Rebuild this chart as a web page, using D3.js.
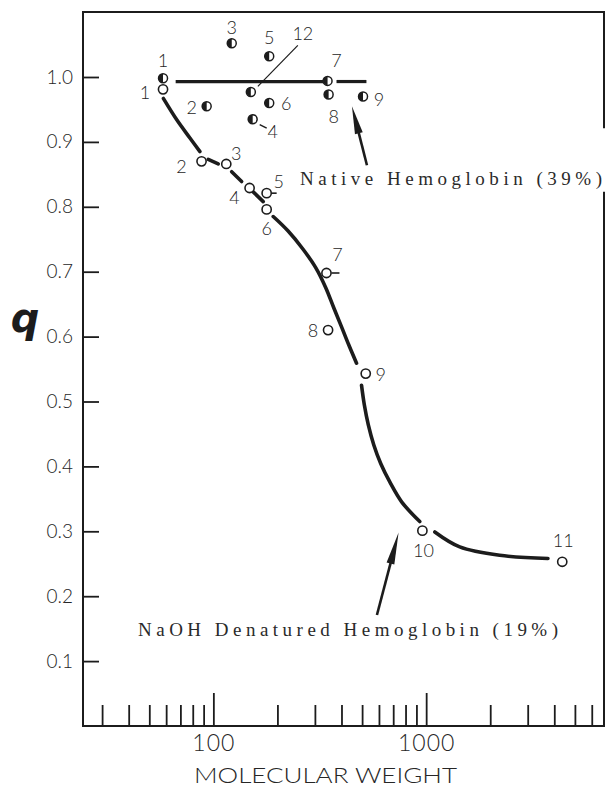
<!DOCTYPE html>
<html>
<head>
<meta charset="utf-8">
<script src="https://cdn.jsdelivr.net/npm/d3@7"></script>
<style>
  html, body { margin: 0; padding: 0; background: #fff; }
  svg { display: block; }
</style>
</head>
<body>
<svg id="chart" width="610" height="787"></svg>
<script>
// ---------------- data ----------------
const mwMajorTicks = [100, 1000];
const mwMinorTicks = [30, 40, 50, 60, 70, 80, 90, 200, 300, 400, 500, 600, 700, 800, 900, 2000, 3000, 4000, 5000, 6000];
const qTicks = [0.1, 0.2, 0.3, 0.4, 0.5, 0.6, 0.7, 0.8, 0.9, 1.0];

// NaOH denatured hemoglobin (open circles)
const denaturedLabels = ["1", "2", "3", "4", "5", "6", "7", "8", "9", "10", "11"];
const denaturedMW     = [58, 88, 115, 148, 178, 178, 340, 346, 520, 960, 4360];
const denaturedQ      = [0.981, 0.870, 0.866, 0.829, 0.821, 0.796, 0.698, 0.610, 0.543, 0.301, 0.253];

// Native hemoglobin (half-filled circles)
const nativeLabels = ["1", "2", "3", "4", "5", "6", "7", "8", "9", "12"];
const nativeMW     = [58, 93, 122, 153, 183, 183, 344, 348, 505, 150];
const nativeQ      = [0.998, 0.955, 1.052, 0.935, 1.032, 0.960, 0.994, 0.973, 0.970, 0.977];

// native mean line (two pieces, broken at point 7)
const nativeLineMW = [[66.5, 328], [379, 524]];
const nativeLineQ  = [0.993, 0.993];

// hand-drawn curve through denatured points, read as segments
const curveSegMW = [
  [58.2, 67.3, 77.6, 86.5],
  [94.6, 105.4],
  [121.9, 135.8],
  [153.9, 171.5],
  [191.1, 224, 263.4, 303.1, 337.8, 368.3, 400.3, 433.1, 470.8],
  [496.9, 512.1, 534.8, 567.5, 612.2, 674.7, 768.3, 933],
  [1098, 1438, 2216, 3735]
];
const curveSegQ = [
  [0.967, 0.934, 0.906, 0.885],
  [0.873, 0.866],
  [0.854, 0.839],
  [0.823, 0.808],
  [0.785, 0.763, 0.735, 0.706, 0.675, 0.644, 0.615, 0.587, 0.559],
  [0.525, 0.495, 0.464, 0.433, 0.404, 0.376, 0.345, 0.315],
  [0.299, 0.276, 0.263, 0.258]
];

const nativeText = "Native Hemoglobin (39%)";
const denaturedText = "NaOH Denatured Hemoglobin (19%)";
const xTitle = "MOLECULAR WEIGHT";
const yTitle = "q";

// ---------------- drawing ----------------
const svg = d3.select("#chart");
const ink = "#1c1c1c";
const txt = "#262626";
const sans = "Lato, 'DejaVu Sans', sans-serif";
const serif = "'Liberation Serif', 'DejaVu Serif', serif";

const x = d3.scaleLog().domain([24.4, 6850]).range([83, 604]);
const y = d3.scaleLinear().domain([0, 1.1]).range([726, 12.1]);

const X0 = x.range()[0], X1 = x.range()[1];
const Y0 = y(0), Y1 = y(1.1);

// frame (right side broken by the native label)
const frame = svg.append("g").attr("stroke", ink).attr("stroke-width", 2).attr("fill", "none");
frame.append("line").attr("x1", X0).attr("y1", Y1).attr("x2", X0).attr("y2", Y0);
frame.append("line").attr("x1", X0 - 1).attr("y1", Y0).attr("x2", X1 + 1).attr("y2", Y0);
frame.append("line").attr("x1", X0 - 1).attr("y1", Y1).attr("x2", X1 + 1).attr("y2", Y1);
frame.append("line").attr("x1", X1).attr("y1", Y1).attr("x2", X1).attr("y2", y(0.921));
frame.append("line").attr("x1", X1).attr("y1", y(0.823)).attr("x2", X1).attr("y2", Y0);

// y axis (ticks point inward)
const yAxis = svg.append("g").attr("transform", `translate(${X0},0)`)
  .call(d3.axisLeft(y).tickValues(qTicks).tickSize(-16).tickPadding(10).tickFormat(d3.format(".1f")));
yAxis.select(".domain").remove();
yAxis.selectAll("line").attr("stroke", ink).attr("stroke-width", 1.8);
yAxis.selectAll("text").attr("font-family", sans).attr("font-weight", 300)
  .attr("font-size", 19).attr("fill", txt);

// x axis minor ticks
const xMinor = svg.append("g").attr("transform", `translate(0,${Y0})`)
  .call(d3.axisBottom(x).tickValues(mwMinorTicks).tickSize(-21).tickFormat(""));
xMinor.select(".domain").remove();
xMinor.selectAll("line").attr("stroke", ink).attr("stroke-width", 1.8);

// x axis major ticks with labels
const xMajor = svg.append("g").attr("transform", `translate(0,${Y0})`)
  .call(d3.axisBottom(x).tickValues(mwMajorTicks).tickSize(-33).tickPadding(9).tickFormat(d3.format("d")));
xMajor.select(".domain").remove();
xMajor.selectAll("line").attr("stroke", ink).attr("stroke-width", 1.8);
xMajor.selectAll("text").attr("font-family", sans).attr("font-weight", 300)
  .attr("font-size", 23).attr("fill", txt).attr("letter-spacing", 1);

// axis titles
svg.append("text").attr("x", (X0 + X1) / 2 - 18).attr("y", 783)
  .attr("text-anchor", "middle").attr("font-family", sans).attr("font-weight", 300)
  .attr("font-size", 21).attr("fill", txt)
  .attr("textLength", 263).attr("lengthAdjust", "spacingAndGlyphs").text(xTitle);
svg.append("text").attr("x", 25).attr("y", 332)
  .attr("text-anchor", "middle").attr("font-family", "'DejaVu Sans', sans-serif")
  .attr("font-style", "italic").attr("font-weight", "bold")
  .attr("font-size", 40).attr("fill", ink).text(yTitle);

// curve segments
const line = d3.line().x(d => x(d[0])).y(d => y(d[1])).curve(d3.curveCatmullRom.alpha(0.5));
const curveG = svg.append("g").attr("fill", "none").attr("stroke", ink)
  .attr("stroke-width", 3.6).attr("stroke-linecap", "round");
curveSegMW.forEach((seg, i) => {
  curveG.append("path").attr("d", line(seg.map((m, j) => [m, curveSegQ[i][j]])));
});

// native mean line
const nl = svg.append("g").attr("stroke", ink).attr("stroke-width", 3.2).attr("stroke-linecap", "butt");
nativeLineMW.forEach(p => {
  nl.append("line").attr("x1", x(p[0])).attr("x2", x(p[1]))
    .attr("y1", y(nativeLineQ[0])).attr("y2", y(nativeLineQ[1]));
});

// label placement (offsets in px from the point)
const denOff = {
  "1": [-18, 3], "2": [-20, 5], "3": [10, -11], "4": [-15, 9], "5": [12, -12],
  "6": [0, 19], "7": [11, -19], "8": [-15, 0], "9": [15, 0], "10": [1, 19], "11": [1, -22]
};
const denDash = { "5": [5, 10], "7": [5, 13] };
const natOff = {
  "1": [0, -18], "2": [-15, 1], "3": [0, -16], "4": [20, 12], "5": [0, -19],
  "6": [17, 0], "7": [9, -21], "8": [5, 21], "9": [16, 3], "12": [52, -59]
};

// denatured points
const den = denaturedLabels.map((l, i) => ({ l, mw: denaturedMW[i], q: denaturedQ[i] }));
const denG = svg.append("g");
den.forEach(d => {
  const cx = x(d.mw), cy = y(d.q);
  if (denDash[d.l]) {
    denG.append("line").attr("x1", cx + denDash[d.l][0]).attr("x2", cx + denDash[d.l][1])
      .attr("y1", cy).attr("y2", cy).attr("stroke", ink).attr("stroke-width", 1.6);
  }
  denG.append("circle").attr("cx", cx).attr("cy", cy).attr("r", 4.6)
    .attr("fill", "#fff").attr("stroke", ink).attr("stroke-width", 1.6);
  const o = denOff[d.l];
  denG.append("text").attr("x", cx + o[0]).attr("y", cy + o[1])
    .attr("text-anchor", "middle").attr("dominant-baseline", "central")
    .attr("font-family", sans).attr("font-weight", 300).attr("font-size", 18)
    .attr("fill", txt).text(d.l);
});

// native points (half-filled)
const nat = nativeLabels.map((l, i) => ({ l, mw: nativeMW[i], q: nativeQ[i] }));
const natG = svg.append("g");
const r = 4.5;
nat.forEach(d => {
  const cx = x(d.mw), cy = y(d.q);
  natG.append("circle").attr("cx", cx).attr("cy", cy).attr("r", r)
    .attr("fill", "#fff").attr("stroke", ink).attr("stroke-width", 1.5);
  natG.append("path")
    .attr("d", `M${cx},${cy - r} A${r},${r} 0 0,0 ${cx},${cy + r} Z`)
    .attr("fill", ink);
  const o = natOff[d.l];
  natG.append("text").attr("x", cx + o[0]).attr("y", cy + o[1])
    .attr("text-anchor", "middle").attr("dominant-baseline", "central")
    .attr("font-family", sans).attr("font-weight", 300).attr("font-size", 18)
    .attr("fill", txt).text(d.l);
  if (d.l === "4") {
    natG.append("line").attr("x1", cx + 7).attr("y1", cy + 5.5).attr("x2", cx + 14).attr("y2", cy + 9)
      .attr("stroke", ink).attr("stroke-width", 1.4);
  }
  if (d.l === "12") {
    natG.append("line").attr("x1", cx + 7).attr("y1", cy - 5.5).attr("x2", cx + 47).attr("y2", cy - 46.5)
      .attr("stroke", ink).attr("stroke-width", 1.2);
  }
});

// arrows
function arrow(tailMW, tailQ, headMW, headQ, len, half) {
  const x1 = x(tailMW), y1 = y(tailQ), x2 = x(headMW), y2 = y(headQ);
  const dx = x2 - x1, dy = y2 - y1, L = Math.hypot(dx, dy);
  const ux = dx / L, uy = dy / L, px = -uy, py = ux;
  const bx = x2 - ux * len, by = y2 - uy * len;
  svg.append("line").attr("x1", x1).attr("y1", y1).attr("x2", bx + ux * 2).attr("y2", by + uy * 2)
    .attr("stroke", ink).attr("stroke-width", 2.6);
  svg.append("path")
    .attr("d", `M${x2},${y2} L${bx + px * half},${by + py * half} L${bx - px * half},${by - py * half} Z`)
    .attr("fill", ink);
}
arrow(527, 0.864, 448, 0.955, 28, 4);
arrow(587, 0.171, 742, 0.298, 32, 4);

// annotation texts (typewriter-like serif, widely spaced)
svg.append("text").attr("x", 300).attr("y", 184.5)
  .attr("font-family", serif).attr("font-size", 19).attr("fill", "#2a2a2a")
  .attr("textLength", 302).attr("lengthAdjust", "spacing").text(nativeText);
svg.append("text").attr("x", 138).attr("y", 636)
  .attr("font-family", serif).attr("font-size", 19).attr("fill", "#2a2a2a")
  .attr("textLength", 420).attr("lengthAdjust", "spacing").text(denaturedText);
</script>
</body>
</html>
